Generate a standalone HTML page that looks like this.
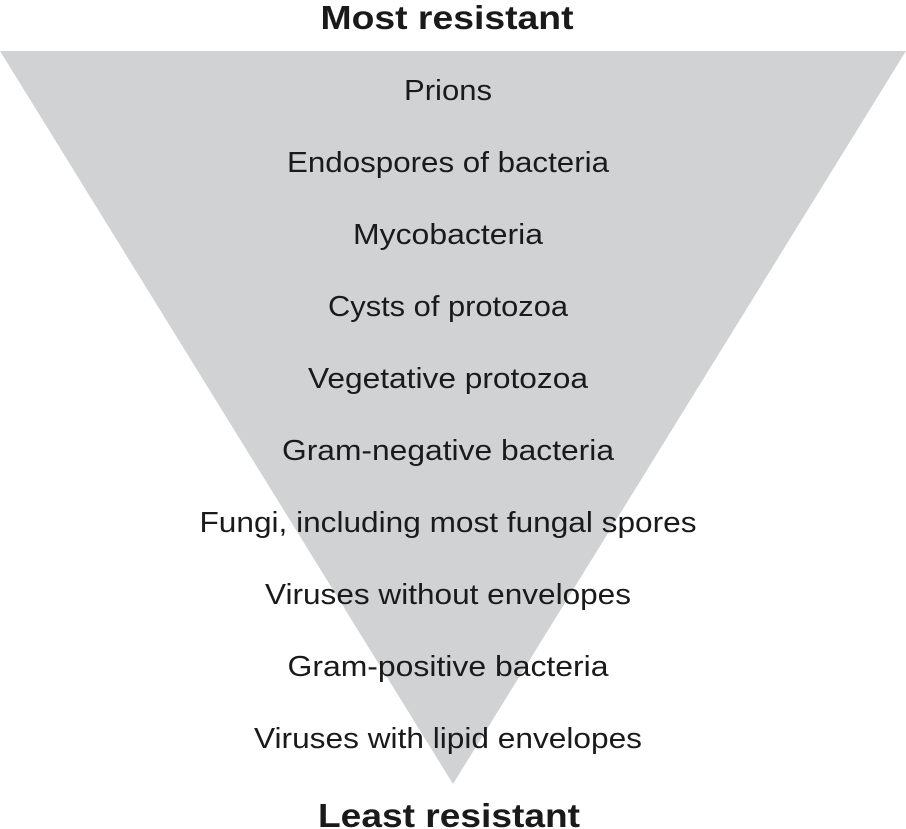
<!DOCTYPE html>
<html><head><meta charset="utf-8"><style>
html,body{margin:0;padding:0;background:#fff;}
svg{display:block;}
text{font-family:"Liberation Sans",sans-serif;fill:#1a1a1a;}
</style></head><body>
<svg width="906" height="829" viewBox="0 0 906 829">
<polygon points="0,51 906,51 453,784" fill="#d1d2d4"/>
<text x="447" y="29" text-anchor="middle" font-size="33" font-weight="bold" textLength="253" lengthAdjust="spacingAndGlyphs">Most resistant</text>
<text x="449" y="827" text-anchor="middle" font-size="33" font-weight="bold" textLength="262" lengthAdjust="spacingAndGlyphs">Least resistant</text>
<g id="labels"></g>
</svg>
<script>
const categories=["Prions","Endospores of bacteria","Mycobacteria","Cysts of protozoa","Vegetative protozoa","Gram-negative bacteria","Fungi, including most fungal spores","Viruses without envelopes","Gram-positive bacteria","Viruses with lipid envelopes"];
const labelWidths=[88,322,190,240,280,332,497,366,321,388];
const g=document.getElementById('labels');
categories.forEach((c,i)=>{
  const t=document.createElementNS('http://www.w3.org/2000/svg','text');
  
  
  t.setAttribute('x',448);
  t.setAttribute('y',100+i*72);
  t.setAttribute('text-anchor','middle');
  t.setAttribute('font-size','29');
  t.setAttribute('textLength',labelWidths[i]);
  t.setAttribute('lengthAdjust','spacingAndGlyphs');
  t.textContent=c;
  g.appendChild(t);
});
</script>
</body></html>
